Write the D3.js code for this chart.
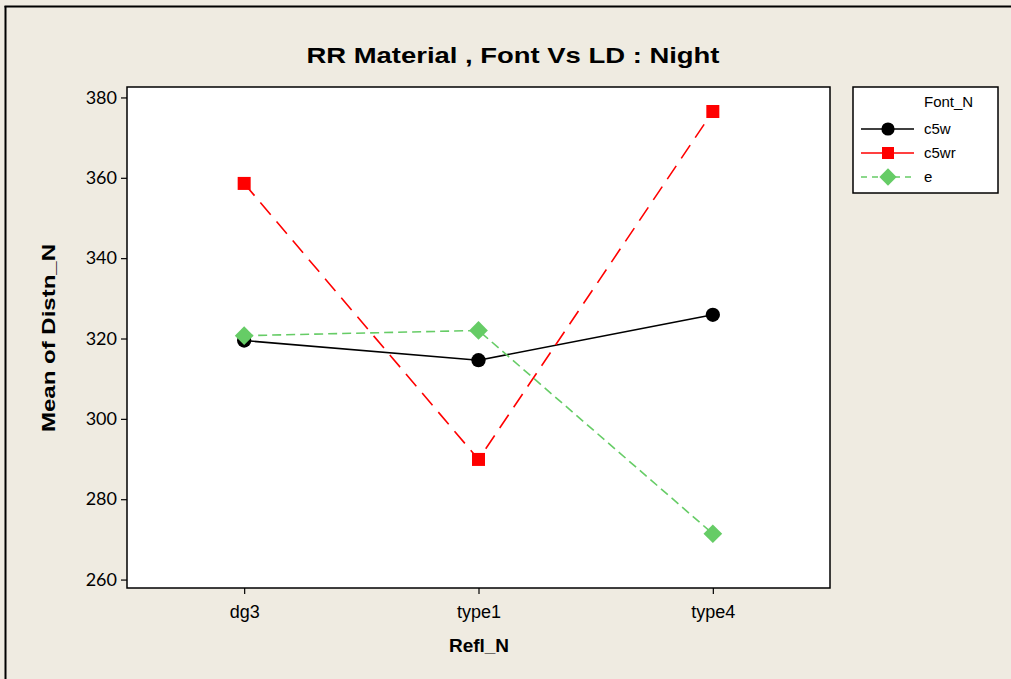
<!DOCTYPE html>
<html>
<head>
<meta charset="utf-8">
<script src="https://cdn.jsdelivr.net/npm/d3@7"></script>
<style>
  html, body { margin: 0; padding: 0; background: #efebe1; overflow: hidden; }
  svg { display: block; overflow: hidden; }
  text { font-family: "Liberation Sans", Arial, sans-serif; fill: #000; }
</style>
</head>
<body>
<svg id="chart" width="1011" height="679"></svg>
<script>
// Interaction plot: mean distance by reflective material, one line per font
const categories = ["dg3", "type1", "type4"];
const fonts = ["c5w", "c5wr", "e"];
const c5wValues = [319.5, 314.6, 325.9];
const c5wrValues = [358.6, 289.9, 376.5];
const eValues = [320.7, 322.0, 271.4];
const yTicks = [260, 280, 300, 320, 340, 360, 380];

const series = [
  { name: fonts[0], values: c5wValues, color: "#000000", dash: null, legendDash: null, shape: "circle" },
  { name: fonts[1], values: c5wrValues, color: "#ff0000", dash: "16,9", legendDash: null, shape: "square" },
  { name: fonts[2], values: eValues, color: "#66cc66", dash: "9,5", legendDash: "6,5", shape: "diamond" }
];

const svg = d3.select("#chart");
const W = 1011, H = 679;

// page background and the frame's top and left edges
svg.append("rect").attr("x", 0).attr("y", 0).attr("width", W).attr("height", H).attr("fill", "#efebe1");
svg.append("line").attr("x1", 4.5).attr("x2", W).attr("y1", 6.5).attr("y2", 6.5)
  .attr("stroke", "#000").attr("stroke-width", 2);
svg.append("line").attr("x1", 5.5).attr("x2", 5.5).attr("y1", 6).attr("y2", H)
  .attr("stroke", "#000").attr("stroke-width", 2);

const plot = { left: 127, top: 87, right: 830, bottom: 588 };

const x = d3.scalePoint().domain(categories).range([plot.left, plot.right]).padding(0.5);
const y = d3.scaleLinear().domain([257.9, 382.6]).range([plot.bottom, plot.top]);

svg.append("rect")
  .attr("x", plot.left).attr("y", plot.top)
  .attr("width", plot.right - plot.left).attr("height", plot.bottom - plot.top)
  .attr("fill", "#ffffff").attr("stroke", "#000").attr("stroke-width", 1.5);

// y axis
const yAxis = svg.append("g").attr("transform", `translate(${plot.left},0)`)
  .call(d3.axisLeft(y).tickValues(yTicks).tickSize(6).tickPadding(4).tickFormat(d3.format("d")));
yAxis.select(".domain").remove();
yAxis.selectAll("line").attr("stroke", "#000").attr("stroke-width", 1.2);
yAxis.selectAll("text").style("font-size", "18px").style("font-family", "Lato, 'Liberation Sans', sans-serif").attr("fill", "#000");

// x axis
const xAxis = svg.append("g").attr("transform", `translate(0,${plot.bottom})`)
  .call(d3.axisBottom(x).tickSize(6).tickPadding(11));
xAxis.select(".domain").remove();
xAxis.selectAll("line").attr("stroke", "#000").attr("stroke-width", 1.2);
xAxis.selectAll("text").style("font-size", "18px").attr("fill", "#000")
  .style("font-family", "'Liberation Sans Narrow', 'Liberation Sans', sans-serif");

// titles
svg.append("text").attr("x", 513).attr("y", 63).attr("text-anchor", "middle")
  .attr("textLength", 413).attr("lengthAdjust", "spacingAndGlyphs")
  .style("font-size", "22px").style("font-weight", "bold")
  .text("RR Material , Font Vs LD : Night");

svg.append("text").attr("x", 479).attr("y", 652).attr("text-anchor", "middle")
  .style("font-size", "19px").style("font-weight", "bold")
  .style("font-family", "'Liberation Sans Narrow', 'Liberation Sans', sans-serif")
  .text("Refl_N");

svg.append("text").attr("transform", "translate(55,338) rotate(-90)").attr("text-anchor", "middle")
  .attr("textLength", 188).attr("lengthAdjust", "spacingAndGlyphs")
  .style("font-size", "19px").style("font-weight", "bold")
  .text("Mean of Distn_N");

// marker drawing
function marker(g, shape, color, size) {
  if (shape === "circle") {
    g.append("circle").attr("r", size * 0.55).attr("fill", color);
  } else if (shape === "square") {
    const s = size * 1.0;
    g.append("rect").attr("x", -s / 2).attr("y", -s / 2).attr("width", s).attr("height", s).attr("fill", color);
  } else {
    const s = size * 0.72;
    g.append("path").attr("d", `M0,${-s} L${s},0 L0,${s} L${-s},0 Z`).attr("fill", color);
  }
}

const line = d3.line().x((d, i) => x(categories[i])).y(d => y(d));

series.forEach(s => {
  svg.append("path").datum(s.values)
    .attr("d", line).attr("fill", "none")
    .attr("stroke", s.color).attr("stroke-width", 1.6)
    .attr("stroke-dasharray", s.dash);
});
series.forEach(s => {
  s.values.forEach((v, i) => {
    const g = svg.append("g").attr("transform", `translate(${x(categories[i])},${y(v)})`);
    marker(g, s.shape, s.color, 13);
  });
});

// legend
const lg = svg.append("g");
lg.append("rect").attr("x", 853).attr("y", 87).attr("width", 145).attr("height", 106)
  .attr("fill", "#ffffff").attr("stroke", "#000").attr("stroke-width", 1.5);
lg.append("text").attr("x", 924).attr("y", 107).style("font-size", "15px").text("Font_N");
series.forEach((s, i) => {
  const yy = 129 + i * 24;
  lg.append("line").attr("x1", 861).attr("x2", 914).attr("y1", yy).attr("y2", yy)
    .attr("stroke", s.color).attr("stroke-width", 1.6).attr("stroke-dasharray", s.legendDash);
  const g = lg.append("g").attr("transform", `translate(888,${yy})`);
  marker(g, s.shape, s.color, 12);
  lg.append("text").attr("x", 924).attr("y", yy + 5).style("font-size", "15px").text(s.name);
});
</script>
</body>
</html>
